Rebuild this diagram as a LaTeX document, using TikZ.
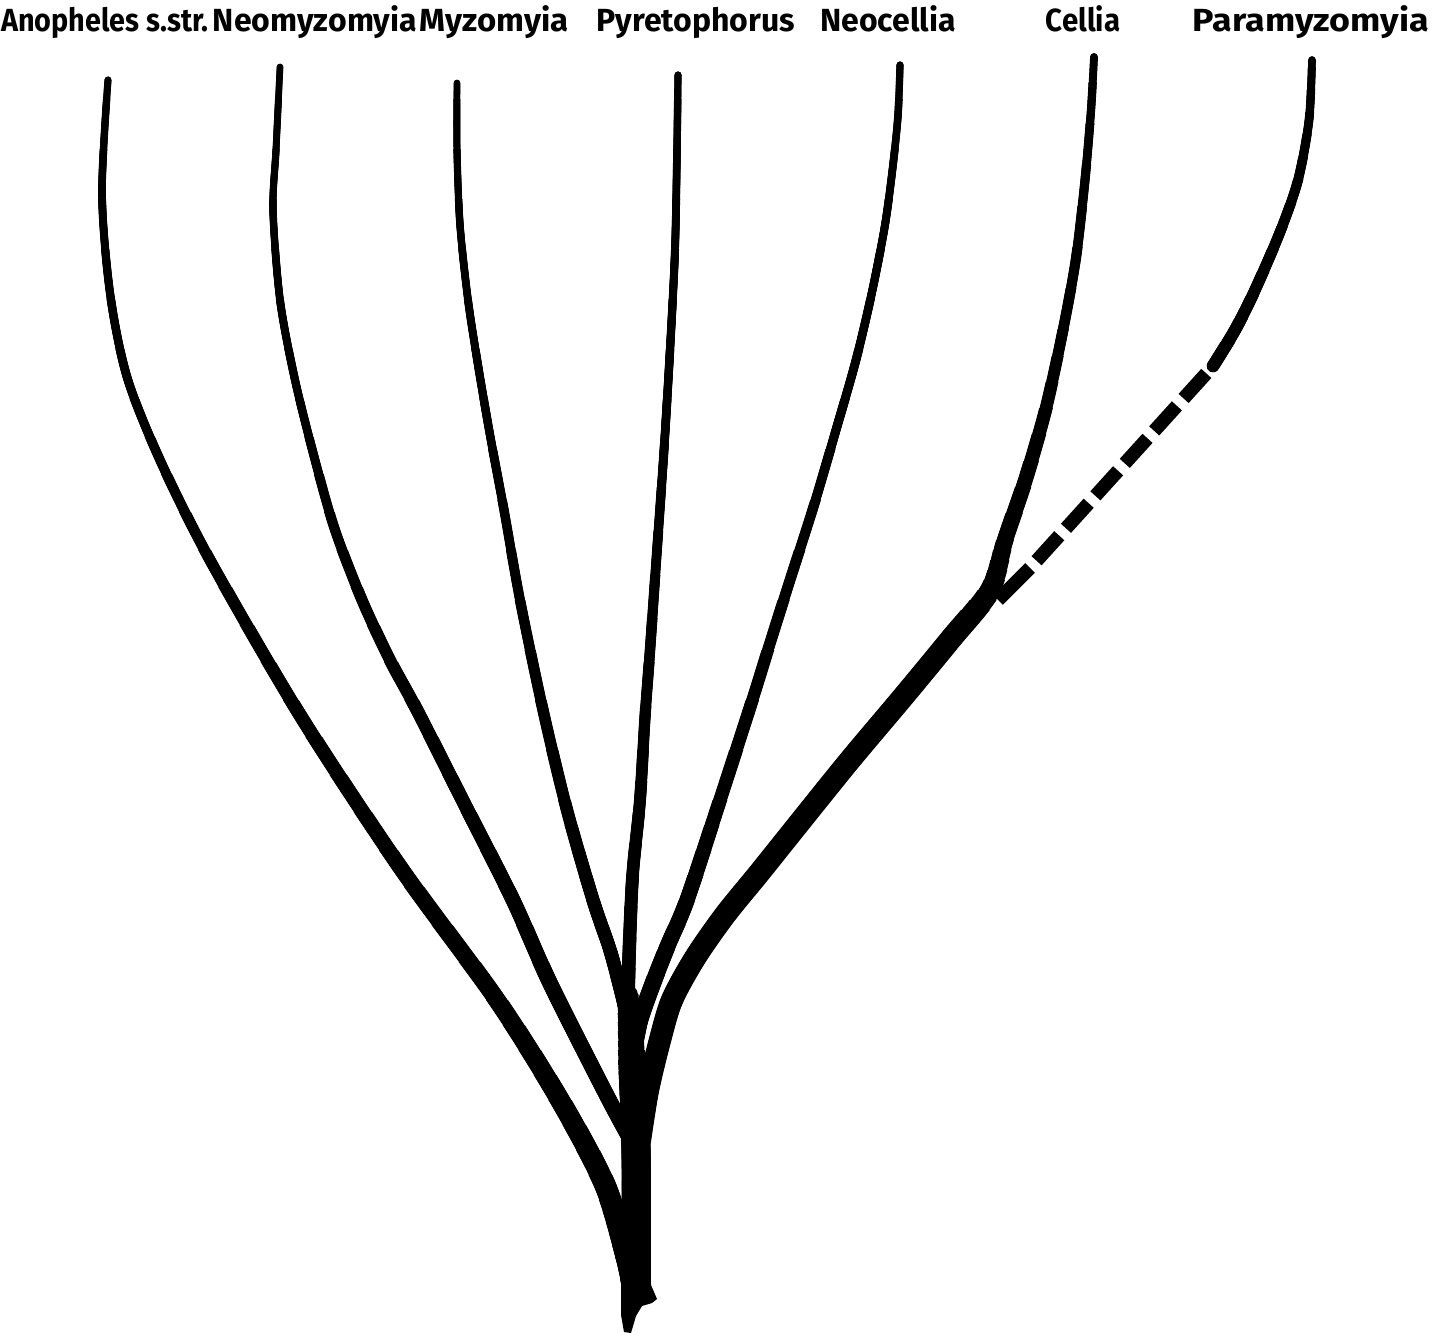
\documentclass[tikz,border=0pt]{standalone}
\usepackage{fontspec}
\setmainfont{Fira Sans}
% tapered smooth branch: #1 plot coordinates (top to bottom),
% #2 list of ya/wa/yb/wb : width (pt) grows from wa at y=ya to wb at y=yb
\newcommand\branch[2]{%
  \foreach \bya/\bwa/\byb/\bwb in {#2}{%
    \foreach \bk in {0,...,7}{%
      \pgfmathsetmacro\byy{\bya+(\byb-\bya)*\bk/8}%
      \pgfmathsetmacro\bww{\bwa+(\bwb-\bwa)*\bk/8}%
      \begin{scope}
        \clip (0,\byy) rectangle (1444,1336);
        \draw[br,line width=\bww pt] plot[smooth] coordinates {#1};
      \end{scope}
    }%
  }%
}
\begin{document}
\begin{tikzpicture}[x=0.5pt,y=-0.5pt,
  br/.style={line cap=round,line join=round},
  lab/.style={font=\bfseries\fontsize{16}{18}\selectfont, anchor=base, inner sep=0pt}]
\useasboundingbox (0,0) rectangle (1444,1336);
\fill[white] (0,0) rectangle (1444,1336);

% labels
\node[lab] (lA) at (105,32) {\scalebox{0.9}[1]{Anopheles s.str.}};
\node[lab] (lB) at (315,32) {Neomyzomyia};
\node[lab] (lC) at (494,32) {\scalebox{1.03}[1]{Myzomyia}};
\node[lab] (lD) at (696,32) {Pyretophorus};
\node[lab] (lE) at (888,32) {Neocellia};
\node[lab] (lF) at (1083,32) {\scalebox{0.92}[1]{Cellia}};
\node[lab] (lG) at (1311,32) {\scalebox{1.12}[1]{Paramyzomyia}};

% trunk
\branch{(628,995) (632,1060) (636,1150) (636,1290)}{985/10/1060/14, 1060/14/1150/14.5}
\fill (622,1180) -- (621,1280) -- (621,1315) -- (624,1332) -- (631,1333)
  -- (636,1316) -- (642,1306) -- (652,1303) -- (657,1299) -- (651,1285) -- (650,1180) -- cycle;
\coordinate (root) at (628,1330);

% Anopheles s.str.
\branch{(108,80) (102,193) (110,293) (127,377) (160,460) (210,560) (300,715) (400,867) (497,1000) (560,1100) (605,1185) (628,1260) (634,1290)}
  {0/3.4/400/4.5, 400/4.5/700/6.8, 700/6.8/1000/9, 1000/9/1200/11, 1200/11/1290/12}

% Neomyzomyia
\branch{(280,67) (276,150) (273,210) (280,300) (295,380) (315,460) (335,530) (362,600) (390,660) (417,710) (465,805) (513,900) (550,983) (605,1092) (628,1135)}
  {0/3.2/400/4.2, 400/4.2/700/6.5, 700/6.5/1000/8}

% Myzomyia
\branch{(457,83) (457,150) (460,225) (468,300) (478,365) (490,435) (504,510) (520,600) (543,710) (567,810) (593,900) (610,950) (622,995) (630,1030)}
  {0/3.2/400/4.2, 400/4.2/800/6.2, 800/6.2/1000/7}

% Pyretophorus
\branch{(678,75) (677,150) (675,250) (670,350) (664,450) (657,550) (650,650) (645,717) (640,800) (633,870) (630,930) (628,1000) (630,1030)}
  {0/3.5/400/4.3, 400/4.3/750/5.8, 750/5.8/1000/7}

% Neocellia
\branch{(900,65) (898,115) (893,165) (885,225) (872,292) (856,360) (836,430) (814,505) (790,580) (771,640) (753,698) (720,800) (687,900) (668,945) (653,983) (640,1020) (634,1050)}
  {0/3.5/400/4.5, 400/4.5/800/7, 800/7/1000/8.5}

% Cellia
\branch{(1094,57) (1091,110) (1085,180) (1076,258) (1063,330) (1046,408) (1026,478) (1005,540) (990,590) (950,640) (903,697) (850,760) (800,822) (760,872) (725,915) (695,958) (672,1000) (660,1040) (648,1090) (640,1140)}
  {0/3.7/330/5.5, 330/5.5/540/8.5, 540/8.5/620/11.5}

% Paramyzomyia
\coordinate (gTop) at (1213,366);
\coordinate (gLow) at (1030,568);
\coordinate (gJoin) at (998,600);
\branch{(1312,60) (1309,120) (1298,180) (1280,232) (1255,290) (1235,330) (1213,366)}
  {0/3.4/180/5, 180/5/366/6.5}
\draw[line width=6.8pt,line cap=butt,dash pattern=on 16.9pt off 5pt,dash phase=16.9pt] (gTop) -- (gLow);
\draw[line width=6.8pt,line cap=butt] (gLow) -- (gJoin);
\end{tikzpicture}
\end{document}
